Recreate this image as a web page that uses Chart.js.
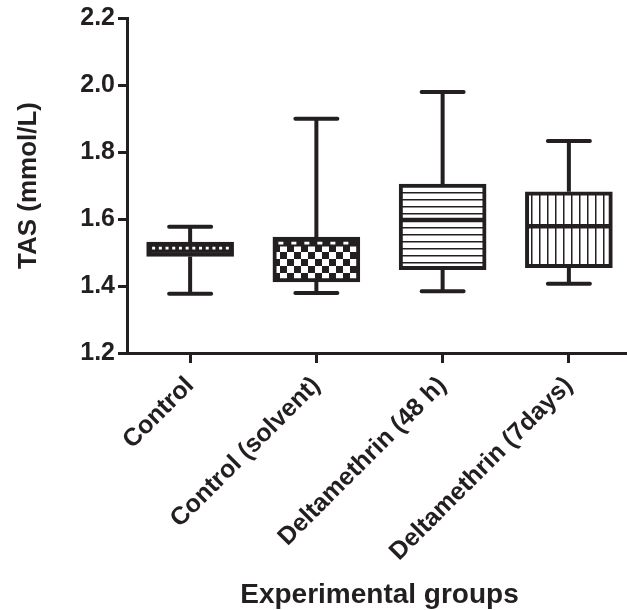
<!DOCTYPE html>
<html>
<head>
<meta charset="utf-8">
<script src="https://cdn.jsdelivr.net/npm/chart.js@4.4.1/dist/chart.umd.min.js"></script>
<style>
html,body{margin:0;padding:0;background:#fff;overflow:hidden;}
#wrap{width:632px;height:610px;}
</style>
</head>
<body>
<div id="wrap"><canvas id="c" width="632" height="610"></canvas></div>
<script>
// ---- data ----
const categories = ["Control", "Control (solvent)", "Deltamethrin (48 h)", "Deltamethrin (7days)"];
const whiskerMin = [1.377, 1.379, 1.384, 1.407];
const q1         = [1.488, 1.412, 1.449, 1.455];
const median     = [1.513, 1.528, 1.597, 1.578];
const q3         = [1.531, 1.546, 1.704, 1.681];
const whiskerMax = [1.577, 1.899, 1.979, 1.833];
const yMin = 1.2, yMax = 2.2, yStep = 0.2;
const yTitle = "TAS (mmol/L)";
const xTitle = "Experimental groups";

const INK = '#231f20';
const FONT = '"Liberation Sans", Arial, Helvetica, sans-serif';

function makePattern(kind) {
  const cv = document.createElement('canvas');
  const g = cv.getContext('2d');
  if (kind === 'solid') {
    cv.width = 4; cv.height = 4;
    g.fillStyle = INK; g.fillRect(0, 0, 4, 4);
  } else if (kind === 'checker') {
    const s = 7;
    cv.width = 2 * s; cv.height = 2 * s;
    g.fillStyle = '#fff'; g.fillRect(0, 0, 2 * s, 2 * s);
    g.fillStyle = INK;
    g.fillRect(0, 0, s, s); g.fillRect(s, s, s, s);
  } else if (kind === 'hlines') {
    cv.width = 8; cv.height = 7;
    g.fillStyle = '#fff'; g.fillRect(0, 0, 8, 7);
    g.fillStyle = INK; g.fillRect(0, 3, 8, 1.5);
  } else if (kind === 'vlines') {
    cv.width = 8; cv.height = 8;
    g.fillStyle = '#fff'; g.fillRect(0, 0, 8, 8);
    g.fillStyle = INK; g.fillRect(3, 0, 1.5, 8);
  }
  return document.getElementById('c').getContext('2d').createPattern(cv, 'repeat');
}
const fills = [makePattern('solid'), makePattern('checker'), makePattern('hlines'), makePattern('vlines')];

const boxPlugin = {
  id: 'boxExtras',
  afterDatasetsDraw(chart) {
    const ctx = chart.ctx;
    const xs = chart.scales.x, ys = chart.scales.y;
    ctx.save();
    ctx.strokeStyle = INK;
    ctx.lineWidth = 4;
    categories.forEach((c, i) => {
      const x = xs.getPixelForValue(i);
      const yMaxP = ys.getPixelForValue(whiskerMax[i]);
      const yMinP = ys.getPixelForValue(whiskerMin[i]);
      const yQ3 = ys.getPixelForValue(q3[i]);
      const yQ1 = ys.getPixelForValue(q1[i]);
      const yMed = ys.getPixelForValue(median[i]);
      ctx.lineCap = 'butt';
      ctx.beginPath();
      ctx.moveTo(x, yQ3); ctx.lineTo(x, yMaxP);
      ctx.moveTo(x, yQ1); ctx.lineTo(x, yMinP);
      ctx.stroke();
      ctx.lineCap = 'round';
      ctx.beginPath();
      ctx.moveTo(x - 21, yMaxP); ctx.lineTo(x + 21, yMaxP);
      ctx.moveTo(x - 21, yMinP); ctx.lineTo(x + 21, yMinP);
      ctx.stroke();
      const half = 41;
      ctx.lineCap = 'butt';
      if (i === 0 || i === 1) {
        ctx.strokeStyle = INK;
        ctx.lineWidth = 7;
        ctx.beginPath(); ctx.moveTo(x - half, yMed); ctx.lineTo(x + half, yMed); ctx.stroke();
        ctx.strokeStyle = '#fff';
        ctx.lineWidth = 2.8;
        if (i === 0) ctx.setLineDash([3, 3.7]); else ctx.setLineDash([5, 8]);
        ctx.beginPath(); ctx.moveTo(x - half + 3, yMed); ctx.lineTo(x + half - 2, yMed); ctx.stroke();
        ctx.setLineDash([]);
        ctx.strokeStyle = INK;
        ctx.lineWidth = 4;
      } else {
        ctx.lineWidth = 4.5;
        ctx.beginPath(); ctx.moveTo(x - half, yMed); ctx.lineTo(x + half, yMed); ctx.stroke();
        ctx.lineWidth = 4;
      }
    });
    ctx.restore();
  }
};

new Chart(document.getElementById('c'), {
  type: 'bar',
  data: {
    labels: categories,
    datasets: [{
      data: categories.map((c, i) => [q1[i], q3[i]]),
      backgroundColor: fills,
      borderColor: INK,
      borderWidth: 4,
      borderSkipped: false,
      barThickness: 87
    }]
  },
  options: {
    responsive: false,
    animation: false,
    devicePixelRatio: 1,
    layout: { padding: { top: 16.5, left: 0, right: 0, bottom: 0 } },
    plugins: { legend: { display: false }, tooltip: { enabled: false } },
    scales: {
      x: {
        type: 'category',
        offset: true,
        grid: { offset: false, drawOnChartArea: false, drawTicks: true, tickLength: 10, tickWidth: 3, tickColor: INK },
        border: { display: true, color: INK, width: 3 },
        ticks: { color: INK, font: { family: FONT, size: 25, weight: 'bold' }, minRotation: 45, maxRotation: 45, padding: 8, autoSkip: false },
        title: { display: true, text: xTitle, color: INK, font: { family: FONT, size: 28, weight: 'bold', lineHeight: 1 }, padding: { top: 0, bottom: 1 } },
        afterFit(s) { s.height = 610 - 353; }
      },
      y: {
        min: yMin, max: yMax,
        grid: { drawOnChartArea: false, drawTicks: true, tickLength: 9, tickWidth: 3, tickColor: INK },
        border: { display: true, color: INK, width: 3 },
        ticks: { stepSize: yStep, color: INK, font: { family: FONT, size: 25, weight: 'bold' }, padding: 3, callback: v => v.toFixed(1) },
        title: { display: true, text: yTitle, color: INK, font: { family: FONT, size: 26, weight: 'bold', lineHeight: 1 }, padding: { top: 16, bottom: 0 } },
        afterFit(s) { s.width = 127; }
      }
    }
  },
  plugins: [boxPlugin]
});
</script>
</body>
</html>
